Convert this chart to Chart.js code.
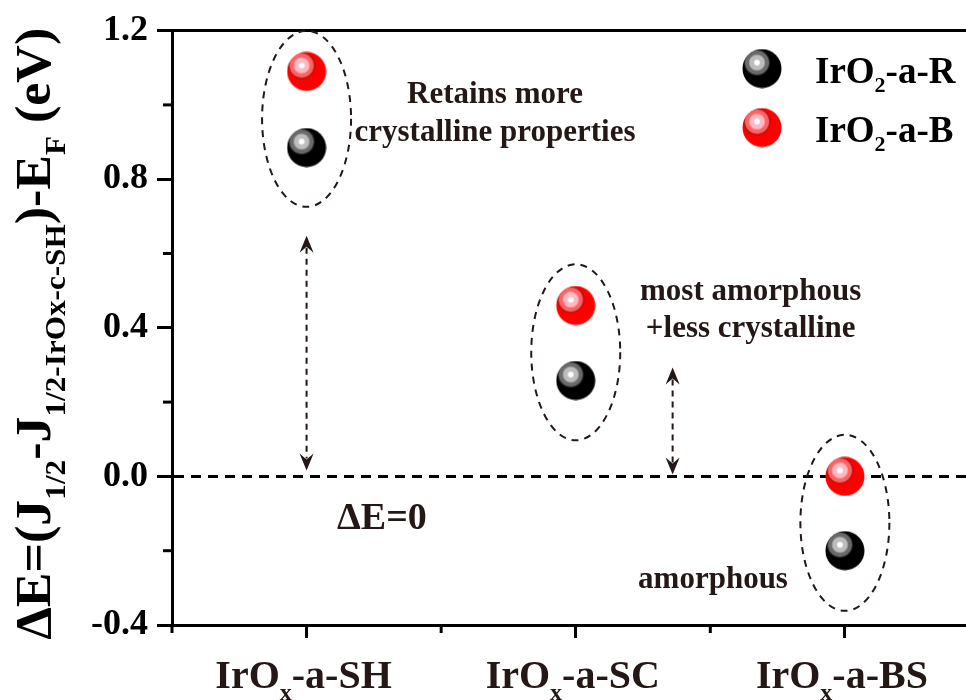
<!DOCTYPE html>
<html>
<head>
<meta charset="utf-8">
<script src="https://cdn.jsdelivr.net/npm/chart.js@4.4.1/dist/chart.umd.min.js"></script>
<style>
html, body { margin: 0; padding: 0; background: #fff; overflow: hidden; }
</style>
</head>
<body>
<canvas id="myChart" width="966" height="700"></canvas>
<script>
// data; _{..} marks a subscript
const categories = ['IrO_{x}-a-SH', 'IrO_{x}-a-SC', 'IrO_{x}-a-BS'];
const seriesNames = ['IrO_{2}-a-R', 'IrO_{2}-a-B'];
const seriesR = [0.885, 0.258, -0.20];
const seriesB = [1.09, 0.46, 0.00];
const yMajorStep = 0.4;
const yMinorStep = 0.2;
const yTitle = 'ΔE=(J_{1/2}-J_{1/2-IrOx-c-SH})-E_{F} (eV)';

// annotations, in data units
const notes = [
    { text: 'Retains more', x: 1.70, y: 1.005 },
    { text: 'crystalline properties', x: 1.70, y: 0.903 },
    { text: 'most amorphous', x: 2.65, y: 0.476 },
    { text: '+less crystalline', x: 2.65, y: 0.374 },
    { text: 'amorphous', x: 2.51, y: -0.30 }
];
const zeroNote = { text: 'ΔE=0', x: 1.28, y: -0.142 };
const arrows = [
    { x: 1, top: 0.648, bottom: 0.016 },
    { x: 2.36, top: 0.293, bottom: 0.005 }
];

const FONT = '"Liberation Serif", "Times New Roman", serif';
const INK = '#231815';

function isStep(v, step) {
    return Math.abs(v / step - Math.round(v / step)) < 1e-6;
}

function makeBall(base, ring1, ring2) {
    const c = document.createElement('canvas');
    c.width = 40;
    c.height = 40;
    const g = c.getContext('2d');
    g.beginPath();
    g.arc(20, 20, 19.5, 0, Math.PI * 2);
    g.fillStyle = base;
    g.fill();
    const grad = g.createRadialGradient(15, 14, 0, 15, 14, 14);
    grad.addColorStop(0, '#ffffff');
    grad.addColorStop(0.16, '#ffffff');
    grad.addColorStop(0.26, ring1);
    grad.addColorStop(0.5, ring1);
    grad.addColorStop(0.62, ring2);
    grad.addColorStop(0.82, ring2);
    grad.addColorStop(1, 'rgba(0,0,0,0)');
    g.beginPath();
    g.arc(20, 20, 19.5, 0, Math.PI * 2);
    g.fillStyle = grad;
    g.fill();
    return c;
}

const ballBlack = makeBall('#000000', '#bdbdbd', '#6a6a6a');
const ballRed = makeBall('#ff0000', '#ffb8c4', '#ff6262');

function parseRich(s) {
    const parts = [];
    s.split(/(_\{[^}]*\})/).forEach(p => {
        if (!p) return;
        if (p.startsWith('_{')) parts.push({ t: p.slice(2, -1), sub: true });
        else parts.push({ t: p, sub: false });
    });
    return parts;
}

function drawRich(ctx, str, x, y, size, opt) {
    const parts = parseRich(str);
    const subSize = opt.subSize || size * 0.6;
    const subDy = opt.subDy || size * 0.28;
    const fonts = ['bold ' + size + 'px ' + FONT, 'bold ' + subSize + 'px ' + FONT];
    let w = 0;
    parts.forEach(p => {
        ctx.font = fonts[p.sub ? 1 : 0];
        p.w = ctx.measureText(p.t).width;
        w += p.w;
    });
    const sx = opt.width ? opt.width / w : (opt.sx || 1);
    ctx.save();
    ctx.translate(x, y);
    if (opt.rotate) ctx.rotate(opt.rotate);
    ctx.scale(sx, 1);
    let cx = opt.align === 'center' ? -w / 2 : (opt.align === 'right' ? -w : 0);
    ctx.textAlign = 'left';
    ctx.textBaseline = 'alphabetic';
    ctx.fillStyle = opt.color || '#000';
    parts.forEach(p => {
        ctx.font = fonts[p.sub ? 1 : 0];
        ctx.fillText(p.t, cx, p.sub ? subDy : 0);
        cx += p.w;
    });
    ctx.restore();
}

function arrowHead(ctx, x, y, dir) {
    // dir = -1 points up, 1 points down
    ctx.beginPath();
    ctx.moveTo(x, y);
    ctx.lineTo(x - 7, y - dir * 17);
    ctx.lineTo(x, y - dir * 11);
    ctx.lineTo(x + 7, y - dir * 17);
    ctx.closePath();
    ctx.fill();
}

const decor = {
    id: 'decor',
    beforeDatasetsDraw(chart) {
        const { ctx, chartArea: a, scales: { x, y } } = chart;
        ctx.save();

        // top frame line
        ctx.strokeStyle = '#000';
        ctx.lineWidth = 3;
        ctx.beginPath();
        ctx.moveTo(a.left - 1.5, a.top);
        ctx.lineTo(a.right, a.top);
        ctx.stroke();

        // minor ticks
        y.ticks.forEach(t => {
            if (isStep(t.value, yMajorStep)) return;
            const py = y.getPixelForValue(t.value);
            ctx.beginPath();
            ctx.moveTo(a.left, py);
            ctx.lineTo(a.left - 9, py);
            ctx.stroke();
        });
        x.ticks.forEach(t => {
            if (isStep(t.value, 1) || !isStep(t.value, 0.5)) return;
            const px = x.getPixelForValue(t.value);
            ctx.beginPath();
            ctx.moveTo(px, a.bottom);
            ctx.lineTo(px, a.bottom + 8);
            ctx.stroke();
        });

        // zero line
        const y0 = y.getPixelForValue(0);
        ctx.setLineDash([10, 7]);
        ctx.lineWidth = 3;
        ctx.beginPath();
        ctx.moveTo(a.left + 2, y0);
        ctx.lineTo(a.right, y0);
        ctx.stroke();

        // dashed ellipses around each pair
        ctx.strokeStyle = INK;
        ctx.lineWidth = 2;
        ctx.setLineDash([7, 6]);
        categories.forEach((c, i) => {
            const mid = (seriesR[i] + seriesB[i]) / 2 - 0.025;
            ctx.beginPath();
            ctx.ellipse(x.getPixelForValue(i + 1), y.getPixelForValue(mid), 44.5, 88, 0, 0, Math.PI * 2);
            ctx.stroke();
        });

        // double headed arrows
        ctx.fillStyle = INK;
        arrows.forEach(ar => {
            const px = x.getPixelForValue(ar.x);
            const pt = y.getPixelForValue(ar.top);
            const pb = y.getPixelForValue(ar.bottom);
            ctx.setLineDash([6, 5]);
            ctx.beginPath();
            ctx.moveTo(px, pt + 12);
            ctx.lineTo(px, pb - 12);
            ctx.stroke();
            ctx.setLineDash([]);
            arrowHead(ctx, px, pt, -1);
            arrowHead(ctx, px, pb, 1);
        });
        ctx.restore();

        // notes
        notes.forEach(n => {
            drawRich(ctx, n.text, x.getPixelForValue(n.x), y.getPixelForValue(n.y), 31, { align: 'center', color: INK });
        });
        drawRich(ctx, zeroNote.text, x.getPixelForValue(zeroNote.x), y.getPixelForValue(zeroNote.y), 38, { align: 'center', color: INK });
    },
    afterDraw(chart) {
        const { ctx, chartArea: a, scales: { x, y } } = chart;

        // category labels with subscripts
        categories.forEach((c, i) => {
            drawRich(ctx, c, x.getPixelForValue(i + 1) - 3, a.bottom + 63, 40, { align: 'center', subSize: 24, subDy: 12, color: INK });
        });

        // y title
        drawRich(ctx, yTitle, 50, (a.top + a.bottom) / 2 + 6, 50, { rotate: -Math.PI / 2, align: 'center', width: 612, subSize: 30, subDy: 15, color: '#000' });

        // legend
        const balls = [ballBlack, ballRed];
        seriesNames.forEach((name, i) => {
            const cy = a.top + 38 + i * 59;
            ctx.drawImage(balls[i], a.right - 224, cy - 20, 40, 40);
            drawRich(ctx, name, a.right - 151, cy + 14, 37, { subSize: 22, subDy: 9, color: '#000' });
        });
    }
};

const ctx = document.getElementById('myChart').getContext('2d');
const chart = new Chart(ctx, {
    type: 'scatter',
    data: {
        datasets: [
            {
                label: seriesNames[0],
                data: categories.map((c, i) => ({ x: i + 1, y: seriesR[i] })),
                pointStyle: ballBlack,
                pointRadius: 20,
                pointHoverRadius: 20
            },
            {
                label: seriesNames[1],
                data: categories.map((c, i) => ({ x: i + 1, y: seriesB[i] })),
                pointStyle: ballRed,
                pointRadius: 20,
                pointHoverRadius: 20
            }
        ]
    },
    options: {
        responsive: false,
        animation: false,
        events: [],
        layout: { autoPadding: false, padding: { top: 30, right: 0, bottom: 0, left: 0 } },
        plugins: {
            legend: { display: false },
            tooltip: { enabled: false }
        },
        scales: {
            x: {
                type: 'linear',
                min: 0.5,
                max: 3.45,
                afterFit: s => { s.height = 75; s.paddingLeft = 0; s.paddingRight = 0; },
                ticks: { stepSize: 0.5, autoSkip: false, padding: 0, callback: () => '' },
                grid: {
                    drawOnChartArea: false,
                    tickLength: 13,
                    tickWidth: 3,
                    tickColor: c => isStep(c.tick.value, 1) ? '#000' : 'rgba(0,0,0,0)'
                },
                border: { color: '#000', width: 3 }
            },
            y: {
                min: -0.4,
                max: 1.2,
                afterFit: s => { s.width = 172; },
                ticks: {
                    stepSize: yMinorStep,
                    autoSkip: false,
                    padding: 9,
                    color: '#000',
                    font: { family: FONT, weight: 'bold', size: 36 },
                    callback: v => isStep(v, yMajorStep) ? v.toFixed(1) : ''
                },
                grid: {
                    drawOnChartArea: false,
                    tickLength: 15,
                    tickWidth: 3,
                    tickColor: c => isStep(c.tick.value, yMajorStep) ? '#000' : 'rgba(0,0,0,0)'
                },
                border: { color: '#000', width: 3 }
            }
        }
    },
    plugins: [decor]
});
</script>
</body>
</html>
